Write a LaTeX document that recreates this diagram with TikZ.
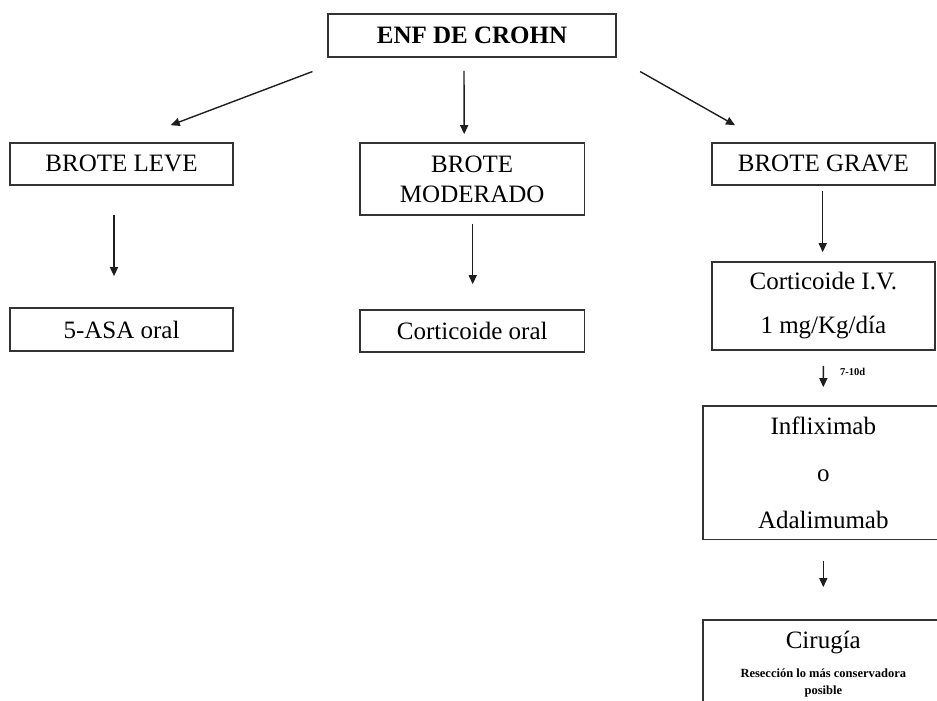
\documentclass[tikz,border=0pt]{standalone}
\usepackage{fontspec}
\setmainfont{Liberation Serif}
\usetikzlibrary{arrows.meta,calc}
\definecolor{boxgray}{HTML}{333333}
\definecolor{arrgray}{HTML}{1E1E1E}
\begin{document}
\begin{tikzpicture}[x=1pt,y=-1pt,
  box/.style={draw=boxgray, line width=1.7pt, rectangle, inner sep=0pt,
    align=center, font=\fontsize{25}{30}\selectfont},
  arr/.style={draw=arrgray, line width=1.4pt, -{Triangle[length=9pt,width=8pt]}},
  note/.style={inner sep=0pt, align=center}]
\useasboundingbox (0,0) rectangle (937,701);
\clip (0,0) rectangle (937,701);

% top node
\node[box, minimum width=288pt, minimum height=43pt,
      font=\bfseries\fontsize{25}{30}\selectfont] (enf) at (472,35.5) {ENF DE CROHN};

% severity levels
\node[box, minimum width=223pt, minimum height=42.3pt] (leve) at (121.5,163.9) {BROTE LEVE};
\node[box, minimum width=224.3pt, minimum height=72.3pt] (mod) at (472.2,178.9) {BROTE\\MODERADO};
\node[box, minimum width=223.3pt, minimum height=42.3pt] (grave) at (823.4,163.9) {BROTE GRAVE};

% treatments
\node[box, minimum width=223pt, minimum height=42.4pt] (asa) at (121.5,329.5) {5-ASA oral};
\node[box, minimum width=224.3pt, minimum height=41.7pt] (coral) at (472.2,330.9) {Corticoide oral};
\node[box, minimum width=223.3pt, minimum height=88.3pt,
      font=\fontsize{25}{44}\selectfont] (civ) at (823.4,305.9) {Corticoide I.V.\\1 mg/Kg/día};
\node[box, minimum width=241.3pt, minimum height=133.3pt,
      font=\fontsize{25}{47}\selectfont] (infl) at (823.3,472.7) {Infliximab\\o\\Adalimumab};
\node[box, minimum width=241.3pt, minimum height=92pt] (cir) at (823.3,666) {};
\node[note, font=\fontsize{25}{30}\selectfont] (cirt) at ($(cir.north)+(0,23)$) {Cirugía};
\node[note, font=\bfseries\fontsize{12.5}{17}\selectfont] (cirs) at ($(cir.north)+(0,63.5)$)
     {Resección lo más conservadora\\posible};

% connectors
\draw[arr] ($(enf.south west)+(-14.7,13.7)$) -- ($(leve.north)+(49.2,-16.7)$);
\draw[arr] ($(enf.south)+(-8,13)$) -- ($(mod.north)+(-8,-7.7)$);
\draw[arr] ($(enf.south east)+(23.3,13.7)$) -- ($(grave.north)+(-88.4,-16.7)$);

\draw[arr] ($(leve.south)+(-7.5,29)$) -- ($(asa.north)+(-7.5,-31.3)$);
\draw[arr] ($(mod.south)+(0.5,7.7)$) -- ($(coral.north)+(0.5,-25)$);
\draw[arr] ($(grave.south)+(-0.7,5)$) -- ($(civ.north)+(-0.7,-8.7)$);
\draw[arr] ($(civ.south)+(0,15)$) -- ($(infl.north)+(0,-18)$);
\node[note, anchor=west, font=\bfseries\fontsize{10.5}{12}\selectfont] (dias) at (840,372) {7-10d};
\draw[arr] ($(infl.south)+(0,20.7)$) -- ($(cir.north)+(0,-32)$);
\end{tikzpicture}
\end{document}
